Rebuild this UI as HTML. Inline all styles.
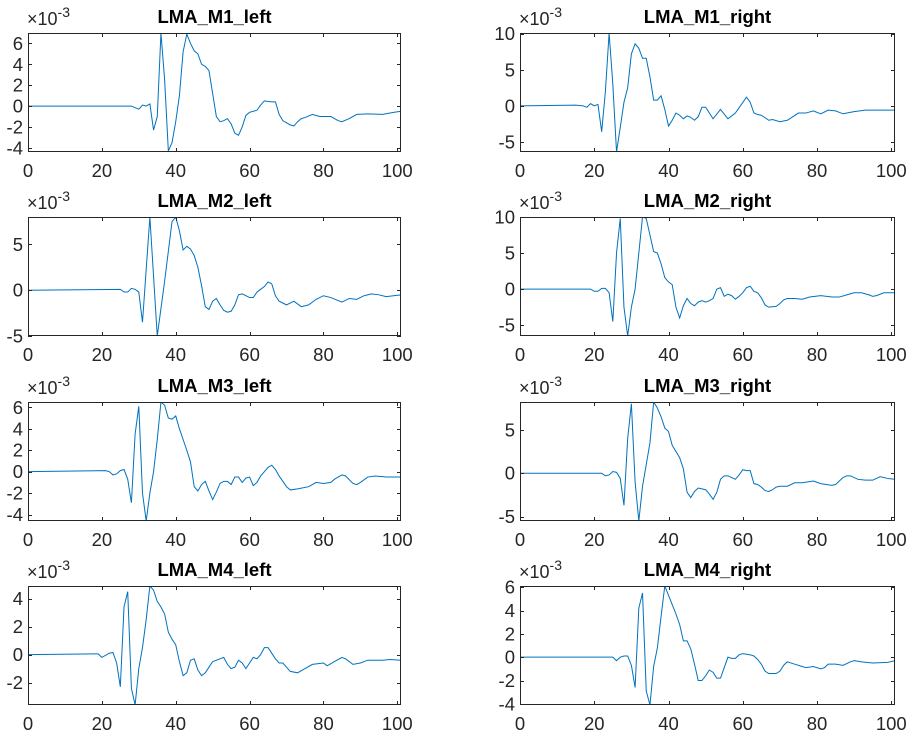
<!DOCTYPE html>
<html><head><meta charset="utf-8">
<style>
html,body{margin:0;padding:0;background:#fff;}
svg{display:block;font-family:"Liberation Sans",Arial,sans-serif;}
</style></head>
<body>
<svg id="fig" width="914" height="739" viewBox="0 0 914 739" xmlns="http://www.w3.org/2000/svg"></svg>
<script>
const xTicks=[0,20,40,60,80,100];

const m1LeftX=[0,28,30,31,32,33,34,35,36,37,38,39,40,41,42,43,44,45,46,47,48,49,50,51,52,53,54,55,56,57,58,59,60,61,62,63,64,66,67,68,69,70,71,72,73,74,75,77,79,82,84,85,87,89,92,96,99,101];
const m1LeftY=[0,0,-0.3,0.1,0,0.2,-2.3,-1,7,2.5,-4.3,-3.5,-1.5,1,5.2,6.9,6,5.3,5,4,3.8,3.4,1.2,-1,-1.5,-1.4,-1.2,-1.7,-2.6,-2.8,-2,-0.9,-0.6,-0.5,-0.4,0.1,0.5,0.4,0.4,-0.8,-1.4,-1.6,-1.8,-1.9,-1.5,-1.2,-1.1,-0.8,-1,-1,-1.4,-1.5,-1.2,-0.8,-0.75,-0.8,-0.6,-0.5];
const m1LeftTicks=[-4,-2,0,2,4,6];

const m1RightX=[0,15,17,18,19,20,21,22,23,24,25,26,27,28,29,30,31,32,33,34,35,36,37,38,39,40,41,42,43,44,45,46,47,48,49,50,52,54,56,58,61,62,63,64,65,67,68,70,72,75,77,79,81,83,85,87,90,93,101];
const m1RightY=[0,0.1,0,-0.2,0.3,0,0.2,-3.6,2,10.1,3,-6.4,-3,0.5,2.5,7.2,8.6,8,6.6,6.6,4,0.8,0.8,1.4,-0.5,-2.8,-2,-1,-1.3,-1.8,-1.4,-1.6,-2,-1.5,-0.2,-0.2,-1.8,-0.5,-1.8,-1,1.2,0.5,-1,-1.2,-1.3,-2,-1.9,-2.2,-2,-1,-1,-0.7,-1.1,-0.6,-0.7,-1.1,-0.8,-0.6,-0.6];
const m1RightTicks=[-5,0,5,10];

const m2LeftX=[0,25,26,27,28,29,30,31,33,35,37,39,40,41,42,43,44,45,46,47,48,49,50,51,52,53,54,55,56,57,58,59,60,61,62,63,64,65,66,67,68,70,71,72,73,74,76,78,80,82,85,87,89,91,93,95,97,101];
const m2LeftY=[0,0.1,-0.2,-0.2,0.2,0.1,-0.2,-3.5,8,-5,1,7.5,8,6.5,4.4,4.8,4.5,3.8,2.5,0.5,-1.8,-2.1,-1.2,-0.9,-1.6,-2.2,-2.4,-2.3,-1.6,-0.5,-0.4,-0.6,-0.8,-0.8,-0.2,0.1,0.4,0.9,0.7,-0.6,-1.2,-1.6,-1.4,-1.2,-1.5,-1.8,-1.6,-1,-0.6,-0.8,-1.3,-0.9,-1,-0.6,-0.4,-0.5,-0.7,-0.5];
const m2LeftTicks=[-5,0,5];

const m2RightX=[0,19,20,21,22,23,24,25,26,27,28,29,30,31,32,33,34,35,36,37,38,39,40,41,42,43,44,45,46,47,48,49,50,51,52,53,54,55,56,57,58,59,60,61,62,63,64,65,66,67,69,70,71,72,74,76,78,81,84,86,88,90,92,94,95,96,98,101];
const m2RightY=[0,0,-0.3,-0.3,0.1,0.1,-0.5,-4.5,5,9.8,-2.5,-6.5,-2.5,0,5,10,9.8,7.5,5.2,5,3.5,1.6,1,0.6,-2.5,-4,-2.3,-1.3,-2,-2.3,-1.8,-1.6,-1.8,-1.6,-1.3,0,0.2,-1,-0.7,-0.9,-1.4,-1,-0.5,0.2,0.4,-0.3,-0.5,-1.2,-2.2,-2.5,-2.4,-2,-1.5,-1.3,-1.3,-1.4,-1.1,-0.9,-1.1,-1.1,-0.8,-0.5,-0.5,-0.8,-1,-0.9,-0.5,-0.5];
const m2RightTicks=[-5,0,5,10];

const m3LeftX=[0,21,22,23,24,25,26,27,28,29,30,31,32,33,34,35,36,37,38,39,40,41,42,43,44,45,46,47,48,49,50,51,52,53,54,55,56,57,58,59,60,61,62,63,64,65,66,67,68,69,70,71,73,76,78,80,82,83,85,86,88,89,90,92,94,97,101];
const m3LeftY=[0,0.1,0,-0.3,-0.2,0.1,0.2,-0.7,-2.9,3.5,6.1,-2,-4.6,-2,0,3,6.5,6.2,5,4.9,5.2,4,3,2,0.9,-1.4,-1.8,-1.2,-0.9,-1.8,-2.6,-1.9,-1.1,-0.9,-0.9,-1.2,-0.5,-0.5,-1,-0.6,-0.5,-1.3,-1,-0.4,0,0.4,0.6,0.2,-0.4,-0.9,-1.4,-1.7,-1.6,-1.4,-1,-1.1,-1,-0.7,-0.3,-0.4,-1.1,-1.2,-1,-0.5,-0.4,-0.5,-0.5];
const m3LeftTicks=[-4,-2,0,2,4,6];

const m3RightX=[0,21,22,23,24,25,26,27,28,29,30,31,32,33,34,35,36,37,38,39,40,41,42,43,44,45,46,47,48,49,50,51,52,53,54,55,56,57,58,59,60,61,62,63,64,65,66,67,68,69,70,72,74,76,79,81,84,85,87,88,89,91,93,95,97,99,101];
const m3RightY=[0,0,0,-0.3,-0.2,0.2,0.1,-0.6,-3.7,4,8,-1,-5.5,-1.5,1,3.5,8.2,7.5,6.5,5.2,4.8,3.2,2.5,1.8,0.5,-2.2,-2.8,-2.1,-1.7,-1.8,-1.9,-2.4,-3,-2.2,-0.7,-0.3,-0.3,-0.5,-0.7,-0.2,0.4,0.3,0.3,-1.2,-1.3,-1.6,-2,-2.1,-1.9,-1.6,-1.5,-1.5,-1.1,-1.1,-0.9,-1.2,-1.4,-1.3,-0.5,-0.3,-0.3,-0.7,-0.8,-0.8,-0.4,-0.6,-0.7];
const m3RightTicks=[-5,0,5];

const m4LeftX=[0,18,19,20,21,22,23,24,25,26,27,28,29,30,31,32,33,34,35,36,37,38,39,40,41,42,43,44,45,46,47,48,49,50,52,53,54,55,56,57,58,59,60,61,62,63,64,65,66,67,68,69,70,71,73,75,77,80,81,83,85,86,88,90,92,96,98,101];
const m4LeftY=[0,0.05,0.05,-0.2,-0.05,0.1,0.15,-0.6,-2.3,3.4,4.5,-2.4,-3.6,-1,0.5,2.5,4.9,4.6,3.8,3.4,2.9,1.6,1.1,0.7,-0.5,-1.5,-1.3,-0.4,-0.3,-1.1,-1.5,-1.3,-0.9,-0.5,-0.3,-0.2,-0.7,-1,-0.9,-0.4,-0.6,-1,-0.6,-0.2,-0.3,0,0.5,0.5,0.1,-0.3,-0.6,-0.6,-0.9,-1.2,-1.3,-1,-0.7,-0.6,-0.8,-0.5,-0.2,-0.3,-0.7,-0.6,-0.4,-0.4,-0.35,-0.4];
const m4LeftTicks=[-2,0,2,4];

const m4RightX=[0,24,25,26,27,28,29,30,31,32,33,34,35,36,37,38,39,40,41,42,43,44,45,46,47,48,49,50,51,52,53,54,55,56,57,58,59,60,62,63,64,65,66,67,69,70,71,72,74,76,77,79,81,82,83,85,87,89,90,92,95,99,101];
const m4RightY=[0,0,0,-0.3,0,0.1,0.1,-0.7,-2.6,4.2,5.5,-2.9,-4.1,-0.8,0.8,3.5,6.1,5.3,4.5,3.7,2.8,1.4,1.4,0.7,-0.6,-2,-2,-1.6,-1.1,-1.3,-1.8,-1.8,-0.9,0,-0.1,-0.1,0.2,0.3,0.2,0.1,-0.2,-0.6,-1.2,-1.4,-1.4,-1.2,-0.7,-0.4,-0.6,-0.8,-0.9,-0.8,-1,-0.9,-0.6,-0.6,-0.7,-0.4,-0.3,-0.4,-0.5,-0.45,-0.3];
const m4RightTicks=[-4,-2,0,2,4,6];

const panels=[
 {name:'m1-left',title:'LMA_M1_left',xs:m1LeftX,ys:m1LeftY,ticks:m1LeftTicks,ylim:[-4.4,7.0],col:0,row:0},
 {name:'m1-right',title:'LMA_M1_right',xs:m1RightX,ys:m1RightY,ticks:m1RightTicks,ylim:[-6.4,10.1],col:1,row:0},
 {name:'m2-left',title:'LMA_M2_left',xs:m2LeftX,ys:m2LeftY,ticks:m2LeftTicks,ylim:[-5,8],col:0,row:1},
 {name:'m2-right',title:'LMA_M2_right',xs:m2RightX,ys:m2RightY,ticks:m2RightTicks,ylim:[-6.5,10],col:1,row:1},
 {name:'m3-left',title:'LMA_M3_left',xs:m3LeftX,ys:m3LeftY,ticks:m3LeftTicks,ylim:[-4.6,6.5],col:0,row:2},
 {name:'m3-right',title:'LMA_M3_right',xs:m3RightX,ys:m3RightY,ticks:m3RightTicks,ylim:[-5.5,8.2],col:1,row:2},
 {name:'m4-left',title:'LMA_M4_left',xs:m4LeftX,ys:m4LeftY,ticks:m4LeftTicks,ylim:[-3.6,4.9],col:0,row:3},
 {name:'m4-right',title:'LMA_M4_right',xs:m4RightX,ys:m4RightY,ticks:m4RightTicks,ylim:[-4.1,6.1],col:1,row:3}
];

const NS='http://www.w3.org/2000/svg';
const svg=document.getElementById('fig');
function mk(tag,attrs,parent){const e=document.createElementNS(NS,tag);for(const k in attrs)e.setAttribute(k,attrs[k]);parent.appendChild(e);return e;}
const colL=[28,401],colR=[520,895];
const rowTop=[33,217,402,586],H=119;
panels.forEach(p=>{
  const xr=p.col===0?colL:colR;
  const top=rowTop[p.row],bot=top+H;
  const g=mk('g',{},svg);
  
  
  const sx=v=>xr[0]+(v-0)/(101-0)*(xr[1]-xr[0]);
  const sy=v=>bot-(v-p.ylim[0])/(p.ylim[1]-p.ylim[0])*H;
  const bg=mk('rect',{x:xr[0],y:top,width:xr[1]-xr[0],height:H,fill:'#fff'},g);
  
  
  const pts=p.xs.map((x,i)=>sx(x).toFixed(2)+','+sy(p.ys[i]).toFixed(2)).join(' ');
  const cp=mk('clipPath',{id:'c'+p.name},g);
  mk('rect',{x:xr[0],y:top,width:xr[1]-xr[0],height:H},cp);
  const ln=mk('polyline',{points:pts,fill:'none',stroke:'#0072BD','stroke-width':1,'clip-path':'url(#c'+p.name+')'},g);
  
  
  const box=mk('rect',{x:xr[0]+0.5,y:top+0.5,width:xr[1]-xr[0]-1,height:H-1,fill:'none',stroke:'#262626','stroke-width':1},g);
  
  
  xTicks.forEach(t=>{
    const x=Math.round(sx(t))+0.5;
    mk('line',{x1:x,x2:x,y1:bot,y2:bot-4,stroke:'#262626'},g);
    mk('line',{x1:x,x2:x,y1:top,y2:top+4,stroke:'#262626'},g);
    const tx=mk('text',{x:sx(t),y:bot+25,'text-anchor':'middle','font-size':'18.5',fill:'#262626'},g);
    tx.textContent=t;
    
    
  });
  p.ticks.forEach(t=>{
    const y=Math.round(sy(t))+0.5;
    mk('line',{x1:xr[0],x2:xr[0]+4,y1:y,y2:y,stroke:'#262626'},g);
    mk('line',{x1:xr[1],x2:xr[1]-4,y1:y,y2:y,stroke:'#262626'},g);
    const ty=mk('text',{x:xr[0]-5,y:sy(t)+6.5,'text-anchor':'end','font-size':'18.5',fill:'#262626'},g);
    ty.textContent=t;
    
    
  });
  const ex=mk('text',{x:xr[0]-1,y:top-8,'font-size':'18',fill:'#262626'},g);
  ex.textContent='×10';
  const sup=mk('tspan',{dy:-8,'font-size':'14'},ex);
  sup.textContent='-3';
  
  
  const ti=mk('text',{x:(xr[0]+xr[1])/2,y:top-10,'text-anchor':'middle','font-size':'18.5','font-weight':'bold',fill:'#000'},g);
  ti.textContent=p.title;
  
  
});
</script>
</body></html>
